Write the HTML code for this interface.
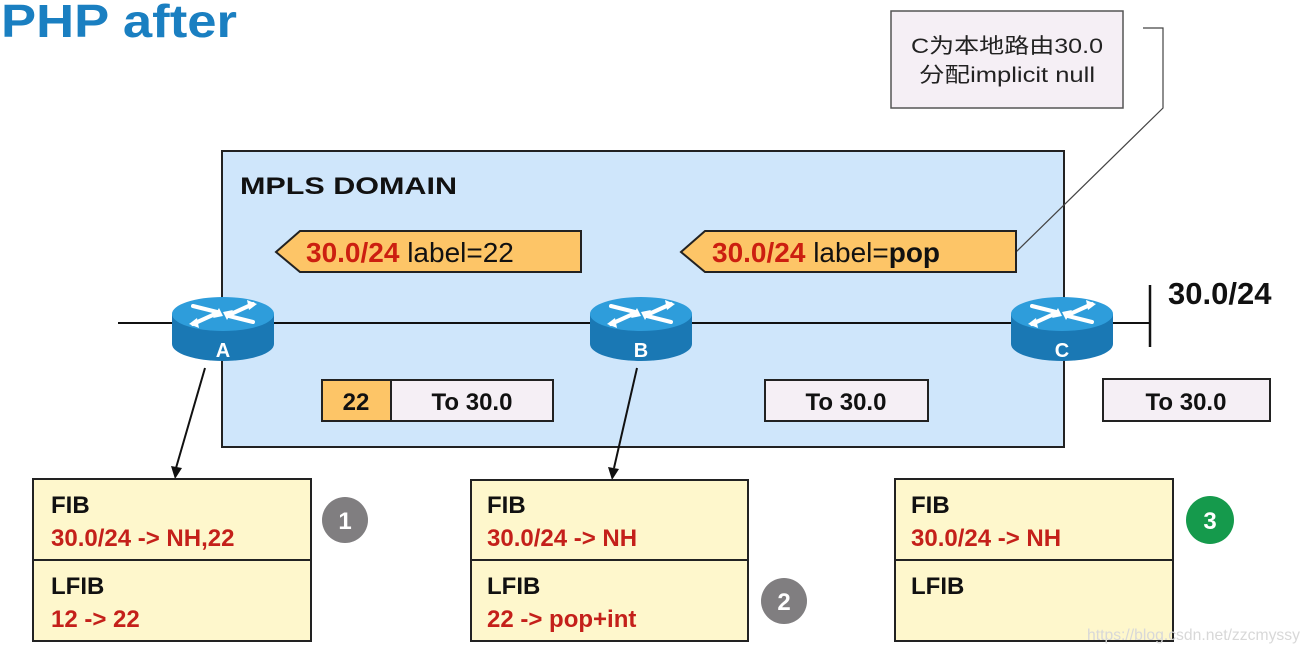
<!DOCTYPE html>
<html><head><meta charset="utf-8"><style>
html,body{margin:0;padding:0;background:#fff;}
svg{display:block;}
text{font-family:"Liberation Sans","Noto Sans CJK SC",sans-serif;}
</style></head><body>
<svg width="1310" height="652" viewBox="0 0 1310 652" xmlns="http://www.w3.org/2000/svg">
<defs>
<g id="rt">
  <path d="M-51,0 L-51,30 A51,17 0 0 0 51,30 L51,0 Z" fill="#1a78b4"/>
  <ellipse cx="0" cy="0" rx="51" ry="17" fill="#2e9ddb"/>
  <g stroke="#fff" stroke-width="4" fill="none" stroke-linecap="round">
    <path d="M-30,-8 L-6,-2"/><path d="M30,8 L6,2"/>
    <path d="M30,-10 L8,0"/><path d="M-30,10 L-8,0"/>
  </g>
  <g fill="#fff"><path d="M-4,-6 L-10,4 L0,2 Z"/><path d="M4,6 L10,-4 L0,-2 Z"/><path d="M24,-14 L34,-10 L26,-4Z"/><path d="M-24,14 L-34,10 L-26,4Z"/></g>
</g>
</defs>
<text x="1" y="37" font-size="46" font-weight="bold" fill="#1a7fc1" textLength="236" lengthAdjust="spacingAndGlyphs">PHP after</text>

<rect x="891" y="11" width="232" height="97" fill="#f5eff5" stroke="#555" stroke-width="1.5"/>
<text x="1007" y="53" font-size="21" text-anchor="middle" fill="#222" textLength="192" lengthAdjust="spacingAndGlyphs">C为本地路由30.0</text>
<text x="1007" y="82" font-size="21" text-anchor="middle" fill="#222" textLength="176" lengthAdjust="spacingAndGlyphs">分配implicit null</text>

<rect x="222" y="151" width="842" height="296" fill="#cfe6fb" stroke="#222" stroke-width="2"/>
<polyline points="1143,28 1163,28 1163,108 1015,253" fill="none" stroke="#444" stroke-width="1.2"/>
<text x="240" y="194" font-size="24" font-weight="bold" fill="#111" textLength="217" lengthAdjust="spacingAndGlyphs">MPLS DOMAIN</text>

<path d="M300,231 L581,231 L581,272 L300,272 L276,252 Z" fill="#fdc567" stroke="#222" stroke-width="2"/>
<text x="306" y="262" font-size="28" fill="#111"><tspan fill="#cc1f10" font-weight="bold">30.0/24</tspan> label=22</text>
<path d="M705,231 L1016,231 L1016,272 L705,272 L681,252 Z" fill="#fdc567" stroke="#222" stroke-width="2"/>
<text x="712" y="262" font-size="28" fill="#111"><tspan fill="#cc1f10" font-weight="bold">30.0/24</tspan> label=<tspan font-weight="bold">pop</tspan></text>

<line x1="118" y1="323" x2="1150" y2="323" stroke="#111" stroke-width="2"/>
<line x1="1150" y1="285" x2="1150" y2="347" stroke="#111" stroke-width="2.5"/>
<text x="1168" y="304" font-size="31" font-weight="bold" fill="#111">30.0/24</text>

<use href="#rt" x="223" y="314"/>
<use href="#rt" x="641" y="314"/>
<use href="#rt" x="1062" y="314"/>
<text x="223" y="357" font-size="20" font-weight="bold" fill="#fff" text-anchor="middle">A</text>
<text x="641" y="357" font-size="20" font-weight="bold" fill="#fff" text-anchor="middle">B</text>
<text x="1062" y="357" font-size="20" font-weight="bold" fill="#fff" text-anchor="middle">C</text>

<rect x="322" y="380" width="69" height="41" fill="#fdc567" stroke="#222" stroke-width="2"/>
<rect x="391" y="380" width="162" height="41" fill="#f5eff5" stroke="#222" stroke-width="2"/>
<text x="356" y="410" font-size="24" font-weight="bold" text-anchor="middle" fill="#111">22</text>
<text x="472" y="410" font-size="24" font-weight="bold" text-anchor="middle" fill="#111">To 30.0</text>
<rect x="765" y="380" width="163" height="41" fill="#f5eff5" stroke="#222" stroke-width="2"/>
<text x="846" y="410" font-size="24" font-weight="bold" text-anchor="middle" fill="#111">To 30.0</text>
<rect x="1103" y="379" width="167" height="42" fill="#f5eff5" stroke="#222" stroke-width="2"/>
<text x="1186" y="410" font-size="24" font-weight="bold" text-anchor="middle" fill="#111">To 30.0</text>

<line x1="205" y1="368" x2="176" y2="468" stroke="#111" stroke-width="2"/>
<path d="M171,466 L175,479 L182,468 Z" fill="#111"/>
<line x1="637" y1="368" x2="614" y2="468" stroke="#111" stroke-width="2"/>
<path d="M608,467 L612,480 L619,469 Z" fill="#111"/>

<g font-size="24" font-weight="bold">
<rect x="33" y="479" width="278" height="162" fill="#fef7cc" stroke="#222" stroke-width="2"/>
<line x1="33" y1="560" x2="311" y2="560" stroke="#222" stroke-width="2"/>
<text x="51" y="513" fill="#111">FIB</text>
<text x="51" y="546" fill="#c4201a">30.0/24 -&gt; NH,22</text>
<text x="51" y="594" fill="#111">LFIB</text>
<text x="51" y="627" fill="#c4201a">12 -&gt; 22</text>

<rect x="471" y="480" width="277" height="161" fill="#fef7cc" stroke="#222" stroke-width="2"/>
<line x1="471" y1="560" x2="748" y2="560" stroke="#222" stroke-width="2"/>
<text x="487" y="513" fill="#111">FIB</text>
<text x="487" y="546" fill="#c4201a">30.0/24 -&gt; NH</text>
<text x="487" y="594" fill="#111">LFIB</text>
<text x="487" y="627" fill="#c4201a">22 -&gt; pop+int</text>

<rect x="895" y="479" width="278" height="162" fill="#fef7cc" stroke="#222" stroke-width="2"/>
<line x1="895" y1="560" x2="1173" y2="560" stroke="#222" stroke-width="2"/>
<text x="911" y="513" fill="#111">FIB</text>
<text x="911" y="546" fill="#c4201a">30.0/24 -&gt; NH</text>
<text x="911" y="594" fill="#111">LFIB</text>
</g>

<circle cx="345" cy="520" r="23" fill="#807e80"/>
<text x="345" y="529" font-size="24" font-weight="bold" fill="#fff" text-anchor="middle">1</text>
<circle cx="784" cy="601" r="23" fill="#807e80"/>
<text x="784" y="610" font-size="24" font-weight="bold" fill="#fff" text-anchor="middle">2</text>
<circle cx="1210" cy="520" r="24" fill="#159a4c"/>
<text x="1210" y="529" font-size="24" font-weight="bold" fill="#fff" text-anchor="middle">3</text>

<text x="1087" y="640" font-size="16" fill="#d8d8d8" textLength="213" lengthAdjust="spacingAndGlyphs">https://blog.csdn.net/zzcmyssy</text>
</svg>
</body></html>
